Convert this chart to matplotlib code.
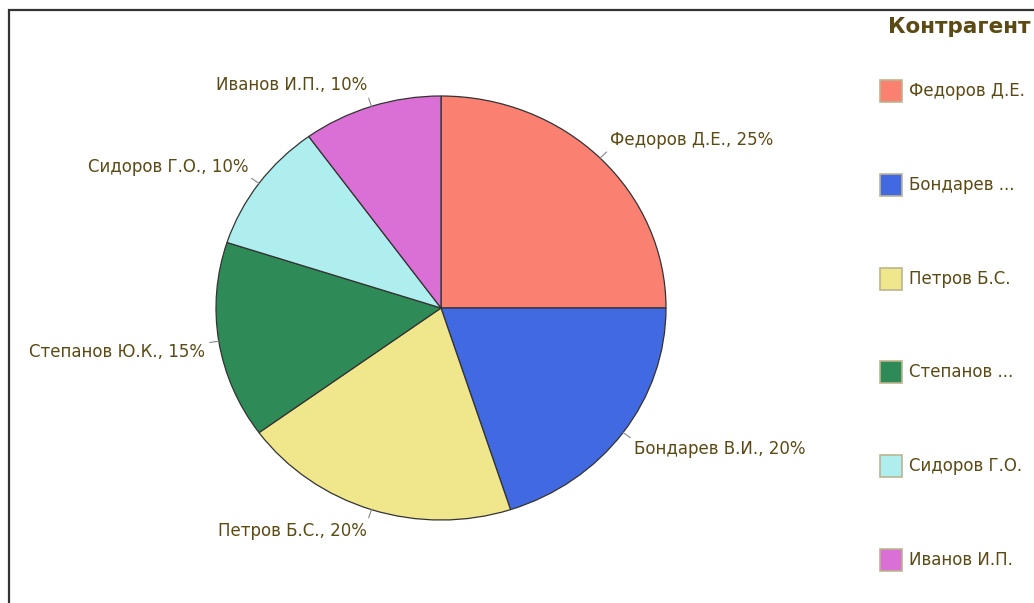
import matplotlib.pyplot as plt
import numpy as np
from matplotlib.patches import Rectangle

# data
names = ['Федоров Д.Е.', 'Бондарев В.И.', 'Петров Б.С.', 'Степанов Ю.К.', 'Сидоров Г.О.', 'Иванов И.П.']
shares = [25, 20, 20, 15, 10, 10]
legend_labels = ['Федоров Д.Е.', 'Бондарев ...', 'Петров Б.С.', 'Степанов ...', 'Сидоров Г.О.', 'Иванов И.П.']
colors = ['#FA8072', '#4169E1', '#F0E68C', '#2E8B57', '#AFEEEE', '#DA70D6']
legend_title = 'Контрагент'

text_col = '#5C4A14'
W, H = 1034, 603

fig = plt.figure(figsize=(W / 100, H / 100), dpi=100)
fig.patch.set_facecolor('white')

# outer frame (cut by image edges on right and bottom)
fig.patches.append(Rectangle((9 / W, -0.05), 1.2, 1 - 10 / H + 0.05, transform=fig.transFigure,
                             fill=False, edgecolor='#333333', linewidth=1.6))

# pie area: slightly elliptical like the original
cx, cy, rx, ry = 441, 308, 225, 212
ax = fig.add_axes([(cx - rx) / W, 1 - (cy + ry) / H, 2 * rx / W, 2 * ry / H])
labels = ['%s, %d%%' % (n, s) for n, s in zip(names, shares)]
wedges, texts = ax.pie(shares, colors=colors, startangle=90, counterclock=False,
                       labels=labels, labeldistance=1.06,
                       wedgeprops=dict(edgecolor='#333333', linewidth=0.9),
                       textprops=dict(color=text_col, fontsize=12))
ax.set_aspect('auto')
ax.set_xlim(-1, 1)
ax.set_ylim(-1, 1)
ax.axis('off')

# small leader ticks, labels sit above/below their tick
for w, t in zip(wedges, texts):
    ang = np.deg2rad((w.theta1 + w.theta2) / 2)
    ax.plot([1.0 * np.cos(ang), 1.04 * np.cos(ang)], [1.0 * np.sin(ang), 1.04 * np.sin(ang)],
            color='#888888', lw=0.8, clip_on=False)
    t.set_va('bottom' if np.sin(ang) > 0 else 'top')
    t.set_clip_on(False)

# legend drawn by hand
fig.text(888 / W, 1 - 27 / H, legend_title, color=text_col, fontsize=15.5,
         fontweight='bold', va='center', ha='left')
for i, (lab, col) in enumerate(zip(legend_labels, colors)):
    yc = 91 + i * 93.8
    fig.patches.append(Rectangle((880 / W, 1 - (yc + 11) / H), 22 / W, 22 / H,
                                 transform=fig.transFigure, facecolor=col,
                                 edgecolor='#BDB58F', linewidth=1.2))
    fig.text(909 / W, 1 - yc / H, lab, color=text_col, fontsize=12, va='center', ha='left')

fig.savefig('out.png', dpi=100)
